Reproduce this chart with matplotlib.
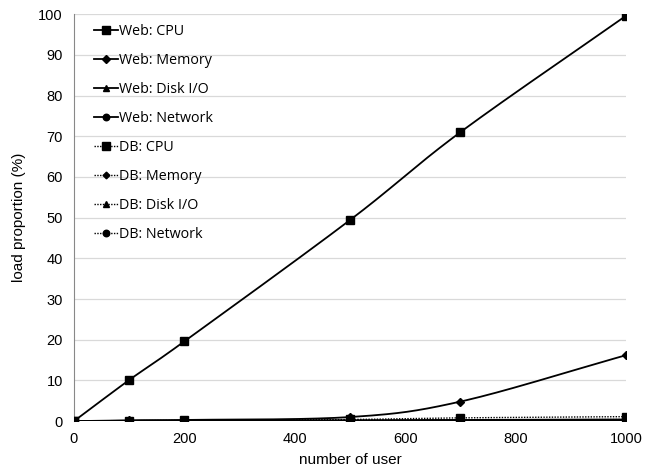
import numpy as np
import matplotlib
matplotlib.use("Agg")
import matplotlib.pyplot as plt

users = [0, 100, 200, 500, 700, 1000]
web_cpu = [0, 10.1, 19.6, 49.4, 71.0, 99.6]
web_mem = [0, 0.2, 0.3, 1.0, 4.8, 16.2]
web_disk = [0, 0.1, 0.1, 0.2, 0.3, 0.4]
web_net = [0, 0.1, 0.1, 0.1, 0.2, 0.2]
db_cpu = [0, 0.1, 0.2, 0.4, 0.8, 1.1]
db_mem = [0, 0.1, 0.1, 0.2, 0.3, 0.4]
db_disk = [0, 0.0, 0.0, 0.1, 0.1, 0.1]
db_net = [0, 0.0, 0.0, 0.1, 0.1, 0.2]

labels = ["Web: CPU", "Web: Memory", "Web: Disk I/O", "Web: Network",
          "DB: CPU", "DB: Memory", "DB: Disk I/O", "DB: Network"]

def smooth(x, y, n=30):
    x = np.asarray(x, float); y = np.asarray(y, float)
    P = np.column_stack([x, y])
    P = np.vstack([P[0] - (P[1] - P[0]), P, P[-1] + (P[-1] - P[-2])])
    out = []
    t = np.linspace(0, 1, n)
    for i in range(1, len(P) - 2):
        p0, p1, p2, p3 = P[i - 1], P[i], P[i + 1], P[i + 2]
        m1 = (p2 - p0) / 6.0
        m2 = (p3 - p1) / 6.0
        c1 = p1 + m1
        c2 = p2 - m2
        seg = ((1 - t)[:, None] ** 3 * p1 + 3 * ((1 - t) ** 2 * t)[:, None] * c1
               + 3 * ((1 - t) * t ** 2)[:, None] * c2 + (t ** 3)[:, None] * p2)
        out.append(seg if i == 1 else seg[1:])
    S = np.vstack(out)
    return S[:, 0], S[:, 1]

fig = plt.figure(figsize=(6.53, 4.70), dpi=100)
ax = fig.add_axes([0.1133, 0.104, 0.8454, 0.866])

series = [web_cpu, web_mem, web_disk, web_net, db_cpu, db_mem, db_disk, db_net]
markers = ["s", "D", "^", "o", "s", "D", "^", "o"]
msizes = [6, 4.5, 5.5, 5.5, 6, 4, 5.5, 5.5]
handles = []
for i, (ys, m, lab) in enumerate(zip(series, markers, labels)):
    ls = "-" if i < 4 else (0, (1, 1))
    lw = 1.3 if i < 4 else 1.0
    sx, sy = smooth(users, ys)
    ax.plot(sx, sy, color="black", lw=lw, linestyle=ls, zorder=3)
    ax.plot(users, ys, linestyle="none", marker=m, color="black", ms=msizes[i], zorder=4)
    h, = ax.plot([], [], color="black", lw=lw, linestyle=ls, marker=m,
                 ms=msizes[i] * 0.85)
    handles.append((h, lab))

ax.set_xlim(0, 1000)
ax.set_ylim(0, 100)
ax.set_xticks(range(0, 1001, 200))
ax.set_yticks(range(0, 101, 10))
ax.grid(axis="y", color="#d9d9d9", lw=0.9)
ax.set_axisbelow(True)
for s in ["top", "right", "bottom"]:
    ax.spines[s].set_visible(False)
ax.spines["left"].set_color("#888888")
ax.tick_params(axis="both", length=0, labelsize=10.5, pad=8)
for lbl in ax.get_xticklabels() + ax.get_yticklabels():
    lbl.set_fontfamily("Liberation Sans")
ax.set_xlabel("number of user", fontsize=11, family="Liberation Sans", labelpad=5)
ax.set_ylabel("load proportion (%)", fontsize=11, family="Liberation Sans", labelpad=9)

leg = ax.legend([h for h, _ in handles], [l for _, l in handles], loc="upper left",
                bbox_to_anchor=(0.018, 1.0), frameon=False, handlelength=1.7,
                handletextpad=0.05, labelspacing=0.975,
                prop={"family": "Open Sans", "size": 10.3}, borderaxespad=0.3)

fig.savefig("out.png", dpi=100)
